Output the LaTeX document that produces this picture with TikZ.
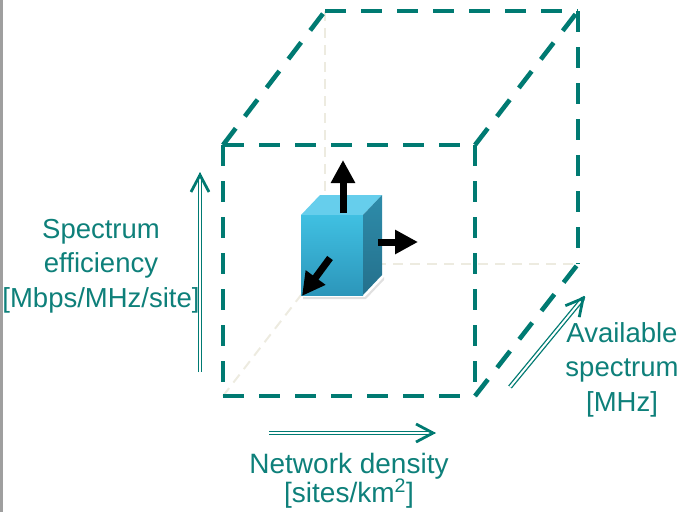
\documentclass[tikz,border=0pt]{standalone}
\usepackage{fontspec}
\setmainfont{Liberation Sans}
\usetikzlibrary{arrows.meta,calc}
\definecolor{tealline}{RGB}{0,122,114}
\definecolor{tealtext}{RGB}{14,128,122}
\definecolor{hiddenline}{RGB}{237,235,224}
\definecolor{cubetop}{RGB}{102,206,236}
\definecolor{cubefronthi}{RGB}{64,192,226}
\definecolor{cubefrontlo}{RGB}{44,150,186}
\definecolor{cubesidehi}{RGB}{46,140,170}
\definecolor{cubesidelo}{RGB}{36,112,140}

\begin{document}
\begin{tikzpicture}[
    x=1pt, y=-1pt,
    >=Latex,
    edge/.style={draw=tealline, line width=4.6pt,
                 dash pattern=on 21pt off 15pt},
    hidden/.style={draw=hiddenline, line width=2pt,
                   dash pattern=on 10pt off 7pt},
    dblshaft/.style={draw=tealline, double=white, double distance=2pt,
                     line width=1.3pt, shorten >=3pt},
    barb/.style={draw=tealline, line width=2.8pt,
                 -{Straight Barb[length=17pt, width=18pt]}},
    push/.style={line width=7pt, -{Triangle[length=23pt, width=23pt]}},
    lbl/.style={text=tealtext, align=center, inner sep=0pt, anchor=base},
    sidefont/.style={font=\fontsize{27.5}{34.5}\selectfont},
    lowfont/.style={font=\fontsize{28}{29}\selectfont}
  ]
  \useasboundingbox (0,0) rectangle (685,512);

  % Page edge on the left.
  \fill[gray!75] (0,0) rectangle (2.6,512);

  % Corners of the big cube.
  \coordinate (fTL) at (223,145);
  \coordinate (fTR) at (475,145);
  \coordinate (fBR) at (475,396);
  \coordinate (fBL) at (223,396);
  \coordinate (bTL) at (325,11);
  \coordinate (bTR) at (578,11);
  \coordinate (bBR) at (578,264);
  \coordinate (bBL) at (325,264);

  % Hidden edges.
  \draw[hidden] (bTL) -- (bBL);
  \draw[hidden] (bBL) -- (bBR);
  \draw[hidden] (fBL) -- (bBL);

  % Small cube in the middle.
  \coordinate (sA) at (301,215);
  \coordinate (sB) at (363,215);
  \coordinate (sC) at (363,295);
  \coordinate (sD) at (301,295);
  \coordinate (sE) at (320,195);
  \coordinate (sF) at (382,195);
  \coordinate (sG) at (382,275);
  \fill[black!12] (303,297) -- (365,297) -- (384,277) -- (384,280)
    -- (366,299) -- (303,299) -- cycle;
  \fill[cubetop] (sA) -- (sE) -- (sF) -- (sB) -- cycle;
  \shade[top color=cubefronthi, bottom color=cubefrontlo]
    (sA) -- (sB) -- (sC) -- (sD) -- cycle;
  \shade[top color=cubesidehi, bottom color=cubesidelo]
    (sB) -- (sF) -- (sG) -- (sC) -- cycle;

  % Growth arrows on the small cube.
  \coordinate (upFrom) at (343,213);
  \coordinate (upTo) at (343,160);
  \coordinate (rightFrom) at (378,242);
  \coordinate (rightTo) at (418,242);
  \coordinate (outFrom) at (330,258);
  \coordinate (outTo) at (302,296);
  \draw[push] (upFrom) -- (upTo);
  \draw[push] (rightFrom) -- (rightTo);
  \draw[push] (outFrom) -- (outTo);

  % Visible edges.
  \draw[edge] (fTL) -- (fTR);
  \draw[edge] (fTL) -- (fBL);
  \draw[edge] (fBL) -- (fBR);
  \draw[edge] (fTR) -- (fBR);
  \draw[edge] (fTL) -- (bTL);
  \draw[edge] (bTL) -- (bTR);
  \draw[edge] (fTR) -- (bTR);
  \draw[edge] (bTR) -- (bBR);
  \draw[edge] (fBR) -- (bBR);

  % Axis arrows.
  \coordinate (effFrom) at (200,372);
  \coordinate (effTo) at (200,172);
  \coordinate (denFrom) at (269,433);
  \coordinate (denTo) at (436,433);
  \coordinate (specFrom) at (510,387);
  \coordinate (specTo) at (585,296);
  \draw[dblshaft] (effFrom) -- (effTo);
  \draw[barb] ($(effTo)+(0,1)$) -- (effTo);
  \draw[dblshaft] (denFrom) -- (denTo);
  \draw[barb] ($(denTo)+(-1,0)$) -- (denTo);
  \draw[dblshaft] (specFrom) -- (specTo);
  \draw[barb] ($(specTo)!1pt!(specFrom)$) -- (specTo);

  % Axis labels (anchored on the baseline of their last line).
  \node[lbl, sidefont] (effLabel) at (101,307)
    {Spectrum\\efficiency\\{}[Mbps/MHz/site]};
  \node[lbl, lowfont] (denLabel) at (349,502)
    {Network density\\{}[sites/km\textsuperscript{2}]};
  \node[lbl, sidefont] (specLabel) at (622,411)
    {Available\\spectrum\\{}[MHz]};

\end{tikzpicture}
\end{document}
